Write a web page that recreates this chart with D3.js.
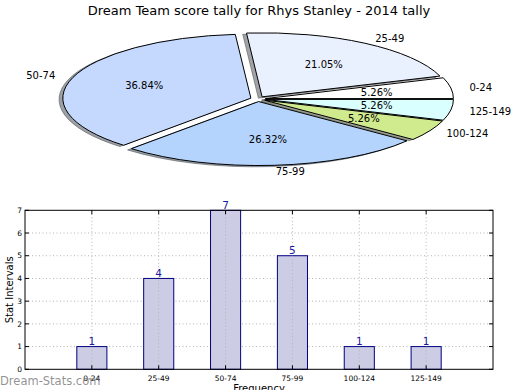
<!DOCTYPE html>
<html><head><meta charset="utf-8">
<script src="https://cdn.jsdelivr.net/npm/d3@7"></script>
<style>body{margin:0;background:#fff} text{font-family:"DejaVu Sans",sans-serif}</style>
</head><body><svg id="c" width="520" height="390"></svg>
<script>
const title = "Dream Team score tally for Rhys Stanley - 2014 tally";
const categories = ["0-24","25-49","50-74","75-99","100-124","125-149"];
const counts = [1,4,7,5,1,1];
const sliceColors = ["#ffffff","#eaf1fe","#c5d8fd","#b4d4fe","#d0ea8e","#d9ffff"];
const explode = [0.04,0.04,0.04,0.04,0.04,0.04];
const yTicks = [0,1,2,3,4,5,6,7];
const yLabel = "Stat Intervals";
const xLabel = "Frequency";
const watermark = "Dream-Stats.com";

const svg = d3.select("#c");
svg.append("rect").attr("width",520).attr("height",390).attr("fill","#fff");

// title
svg.append("text").attr("x",259).attr("y",14.5).attr("text-anchor","middle")
  .attr("font-size",13).attr("fill","#000").text(title);

// ---- pie ----
const cx = 258, cy = 99, rx = 188, ry = 64;
const total = d3.sum(counts);
const arcs = d3.pie().sort(null).value(d=>d)
  .startAngle(Math.PI/2).endAngle(Math.PI/2 - 2*Math.PI)(counts);
const arcGen = d3.arc().innerRadius(0).outerRadius(1);
const info = arcs.map((a,i)=>{
  const mid = (a.startAngle + a.endAngle)/2;
  const dx = Math.sin(mid), dy = -Math.cos(mid);
  return {a, i, dx, dy, ox: explode[i]*dx, oy: explode[i]*dy};
});
const rgb = c => { const k = d3.rgb(c); return d3.rgb(k.r*0.3,k.g*0.3,k.b*0.3).toString(); };
const pieG = svg.append("g");
// shadows
pieG.selectAll("path.sh").data(info).join("path").attr("class","sh")
  .attr("transform", d=>`translate(${cx+rx*(d.ox-0.02)},${cy+ry*(d.oy+0.02)}) scale(${rx},${ry})`)
  .attr("d", d=>arcGen(d.a)).attr("fill", d=>rgb(sliceColors[d.i])).attr("fill-opacity",0.5)
  .attr("stroke", d=>rgb(sliceColors[d.i])).attr("stroke-opacity",0.5).attr("stroke-width",1)
  .attr("vector-effect","non-scaling-stroke");
// wedges
pieG.selectAll("path.w").data(info).join("path").attr("class","w")
  .attr("transform", d=>`translate(${cx+rx*d.ox},${cy+ry*d.oy}) scale(${rx},${ry})`)
  .attr("d", d=>arcGen(d.a)).attr("fill", d=>sliceColors[d.i])
  .attr("stroke","#000").attr("stroke-width",1).attr("vector-effect","non-scaling-stroke");
// labels
pieG.selectAll("text.lab").data(info).join("text").attr("class","lab")
  .attr("x", d=>cx+rx*(d.ox+1.1*d.dx)).attr("y", d=>cy+ry*(d.oy+1.1*d.dy)).attr("dy","0.36em")
  .attr("text-anchor", d=>d.dx<0?"end":"start").attr("font-size",10).attr("fill","#000")
  .text(d=>categories[d.i]);
pieG.selectAll("text.pct").data(info).join("text").attr("class","pct")
  .attr("x", d=>cx+rx*(d.ox+0.6*d.dx)).attr("y", d=>cy+ry*(d.oy+0.6*d.dy)).attr("dy","0.36em")
  .attr("text-anchor","middle").attr("font-size",10).attr("fill","#000")
  .text(d=>(100*counts[d.i]/total).toFixed(2)+"%");

// ---- bar chart ----
const L=25, R=493, T=210.3, B=369.3;
const x = d3.scaleLinear().domain([0,categories.length+1]).range([L,R]);
const y = d3.scaleLinear().domain([0,7]).range([B,T]);
const bw = 0.45;
const bg = svg.append("g");
// grid
bg.selectAll("line.gy").data(yTicks.slice(1,-1)).join("line")
  .attr("x1",L).attr("x2",R).attr("y1",d=>y(d)).attr("y2",d=>y(d))
  .attr("stroke","#b4b4b4").attr("stroke-width",1).attr("stroke-dasharray","1,2.5");
// bars
bg.selectAll("rect.bar").data(counts).join("rect")
  .attr("x",(d,i)=>x(i+1-bw/2)).attr("width",(d,i)=>x(i+1+bw/2)-x(i+1-bw/2))
  .attr("y",d=>y(d)).attr("height",d=>B-y(d))
  .attr("fill","#ccccE5").attr("stroke","#000080").attr("stroke-width",1);
bg.selectAll("line.gx").data(categories).join("line")
  .attr("x1",(d,i)=>x(i+1)).attr("x2",(d,i)=>x(i+1)).attr("y1",T).attr("y2",B)
  .attr("stroke","#b4b4b4").attr("stroke-width",1).attr("stroke-dasharray","1,2.5");
// frame
bg.append("rect").attr("x",L).attr("y",T).attr("width",R-L).attr("height",B-T)
  .attr("fill","none").attr("stroke","#000").attr("stroke-width",1);
// ticks (inward)
yTicks.forEach(t=>{
  bg.append("line").attr("x1",L).attr("x2",L+4).attr("y1",y(t)).attr("y2",y(t)).attr("stroke","#000");
  bg.append("line").attr("x1",R-4).attr("x2",R).attr("y1",y(t)).attr("y2",y(t)).attr("stroke","#000");
});
categories.forEach((c,i)=>{
  bg.append("line").attr("x1",x(i+1)).attr("x2",x(i+1)).attr("y1",B).attr("y2",B-4).attr("stroke","#000");
  bg.append("line").attr("x1",x(i+1)).attr("x2",x(i+1)).attr("y1",T).attr("y2",T+4).attr("stroke","#000");
});
// tick labels
bg.selectAll("text.yt").data(yTicks).join("text")
  .attr("x",L-3).attr("y",d=>y(d)).attr("dy","0.36em").attr("text-anchor","end")
  .attr("font-size",7.5).attr("fill","#000").text(d=>d);
bg.selectAll("text.xt").data(categories).join("text")
  .attr("x",(d,i)=>x(i+1)).attr("y",B+9).attr("dy","0.36em").attr("text-anchor","middle")
  .attr("font-size",7.5).attr("fill","#000").text(d=>d);
// value labels
bg.selectAll("text.v").data(counts).join("text")
  .attr("x",(d,i)=>x(i+1)).attr("y",d=>y(d)-1.5).attr("text-anchor","middle")
  .attr("font-size",10.5).attr("fill","#1a1aa0").text(d=>d);
// axis labels
svg.append("text").attr("transform",`translate(13,${(T+B)/2}) rotate(-90)`).attr("text-anchor","middle")
  .attr("font-size",10).attr("fill","#000").text(yLabel);
svg.append("text").attr("x",(L+R)/2).attr("y",392).attr("text-anchor","middle")
  .attr("font-size",10).attr("fill","#000").text(xLabel);
// watermark
svg.append("text").attr("x",0).attr("y",385).attr("font-size",11.5)
  .attr("fill","#808080").attr("fill-opacity",0.85).text(watermark);
</script></body></html>
